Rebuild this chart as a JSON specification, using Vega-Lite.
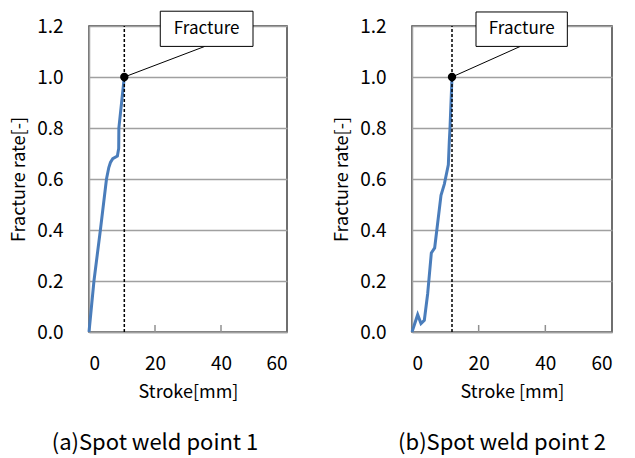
{
  "$schema": "https://vega.github.io/schema/vega-lite/v6.json",
  "padding": {"left": 9, "top": 9, "right": 5, "bottom": 0},
  "spacing": 44,
  "background": "white",
  "config": {
    "font": "Noto Sans CJK JP",
    "view": {"stroke": "#404040", "strokeWidth": 1.5},
    "axis": {
      "labelFont": "Noto Sans CJK JP",
      "titleFont": "Noto Sans CJK JP",
      "labelFontSize": 19,
      "titleFontSize": 18,
      "titleFontWeight": "normal",
      "labelColor": "#000000",
      "titleColor": "#000000",
      "domainColor": "#a0a0a0",
      "domainWidth": 1.5,
      "gridColor": "#a0a0a0",
      "gridWidth": 1.5,
      "ticks": false
    },
    "title": {"font": "Noto Sans CJK JP", "fontSize": 22, "fontWeight": "normal", "color": "#000000"}
  },
  "datasets": {
    "p1": [
      {"stroke": 0, "rate": 0},
      {"stroke": 1.5, "rate": 0.2},
      {"stroke": 3.45, "rate": 0.4},
      {"stroke": 5.3, "rate": 0.6},
      {"stroke": 6.0, "rate": 0.645},
      {"stroke": 6.5, "rate": 0.665},
      {"stroke": 7.2, "rate": 0.68},
      {"stroke": 8.6, "rate": 0.69},
      {"stroke": 9.0, "rate": 0.72},
      {"stroke": 9.05, "rate": 0.8},
      {"stroke": 10.7, "rate": 1.0}
    ],
    "p2": [
      {"stroke": 0, "rate": 0},
      {"stroke": 1.7, "rate": 0.068},
      {"stroke": 2.7, "rate": 0.033},
      {"stroke": 3.7, "rate": 0.046},
      {"stroke": 4.7, "rate": 0.15},
      {"stroke": 5.8, "rate": 0.31},
      {"stroke": 6.8, "rate": 0.33},
      {"stroke": 8.7, "rate": 0.536},
      {"stroke": 9.7, "rate": 0.58},
      {"stroke": 10.9, "rate": 0.656},
      {"stroke": 11.2, "rate": 0.75},
      {"stroke": 11.4, "rate": 0.8},
      {"stroke": 12.0, "rate": 1.0}
    ],
    "ticks": [{"t": 20, "y0": 0, "y1": 0.0275}, {"t": 40, "y0": 0, "y1": 0.0275}],
    "f1": [{"x": 10.7, "y": 1.0, "bx1": 21.6, "bx2": 49.7, "by1": 1.12, "by2": 1.258, "cx": 35.1, "cy": 1.12, "tx": 35.65, "ty": 1.189, "label": "Fracture"}],
    "f2": [{"x": 12.0, "y": 1.0, "bx1": 19.2, "bx2": 46.6, "by1": 1.12, "by2": 1.255, "cx": 32.5, "cy": 1.12, "tx": 32.9, "ty": 1.187, "label": "Fracture"}]
  },
  "hconcat": [
    {
      "width": 198,
      "height": 306,
      "title": {"text": "(a)Spot weld point 1", "orient": "bottom", "anchor": "middle", "offset": 32, "dx": -33},
      "layer": [
        {
          "data": {"name": "p1"},
          "mark": {"type": "line", "color": "#4a7dbb", "strokeWidth": 3},
          "encoding": {
            "x": {"field": "stroke", "type": "quantitative", "scale": {"domain": [0, 60]},
              "axis": {"title": "Stroke[mm]", "values": [0, 20, 40, 60], "grid": false, "labelPadding": 22, "titlePadding": 10}},
            "y": {"field": "rate", "type": "quantitative", "scale": {"domain": [0, 1.2]},
              "axis": {"title": "Fracture rate[-]", "values": [0, 0.2, 0.4, 0.6, 0.8, 1.0, 1.2], "format": ".1f", "labelPadding": 26, "titlePadding": 8}}
          }
        },
        {
          "data": {"name": "ticks"},
          "mark": {"type": "rule", "color": "#909090", "strokeWidth": 1.5},
          "encoding": {"x": {"field": "t", "type": "quantitative"}, "y": {"field": "y0", "type": "quantitative"}, "y2": {"field": "y1"}}
        },
        {
          "data": {"name": "f1"},
          "mark": {"type": "rule", "color": "#000000", "strokeWidth": 1.5, "strokeDash": [3, 2]},
          "encoding": {"x": {"field": "x", "type": "quantitative"}, "y": {"datum": 0}, "y2": {"datum": 1.2}}
        },
        {
          "data": {"name": "f1"},
          "mark": {"type": "rule", "color": "#000000", "strokeWidth": 1},
          "encoding": {"x": {"field": "x", "type": "quantitative"}, "y": {"field": "y", "type": "quantitative"}, "x2": {"field": "cx"}, "y2": {"field": "cy"}}
        },
        {
          "data": {"name": "f1"},
          "mark": {"type": "point", "filled": true, "color": "#000000", "size": 70, "opacity": 1},
          "encoding": {"x": {"field": "x", "type": "quantitative"}, "y": {"field": "y", "type": "quantitative"}}
        },
        {
          "data": {"name": "f1"},
          "mark": {"type": "rect", "fill": "white", "stroke": "#000000", "strokeWidth": 1},
          "encoding": {"x": {"field": "bx1", "type": "quantitative"}, "x2": {"field": "bx2"}, "y": {"field": "by1", "type": "quantitative"}, "y2": {"field": "by2"}}
        },
        {
          "data": {"name": "f1"},
          "mark": {"type": "text", "fontSize": 17, "color": "#000000", "align": "center", "baseline": "middle"},
          "encoding": {"x": {"field": "tx", "type": "quantitative"}, "y": {"field": "ty", "type": "quantitative"}, "text": {"field": "label"}}
        }
      ]
    },
    {
      "width": 200,
      "height": 306,
      "title": {"text": "(b)Spot weld point 2", "orient": "bottom", "anchor": "middle", "offset": 32, "dx": -10},
      "layer": [
        {
          "data": {"name": "p2"},
          "mark": {"type": "line", "color": "#4a7dbb", "strokeWidth": 3},
          "encoding": {
            "x": {"field": "stroke", "type": "quantitative", "scale": {"domain": [0, 60]},
              "axis": {"title": "Stroke [mm]", "values": [0, 20, 40, 60], "grid": false, "labelPadding": 22, "titlePadding": 10}},
            "y": {"field": "rate", "type": "quantitative", "scale": {"domain": [0, 1.2]},
              "axis": {"title": "Fracture rate[-]", "values": [0, 0.2, 0.4, 0.6, 0.8, 1.0, 1.2], "format": ".1f", "labelPadding": 26, "titlePadding": 8}}
          }
        },
        {
          "data": {"name": "ticks"},
          "mark": {"type": "rule", "color": "#909090", "strokeWidth": 1.5},
          "encoding": {"x": {"field": "t", "type": "quantitative"}, "y": {"field": "y0", "type": "quantitative"}, "y2": {"field": "y1"}}
        },
        {
          "data": {"name": "f2"},
          "mark": {"type": "rule", "color": "#000000", "strokeWidth": 1.5, "strokeDash": [3, 2]},
          "encoding": {"x": {"field": "x", "type": "quantitative"}, "y": {"datum": 0}, "y2": {"datum": 1.2}}
        },
        {
          "data": {"name": "f2"},
          "mark": {"type": "rule", "color": "#000000", "strokeWidth": 1},
          "encoding": {"x": {"field": "x", "type": "quantitative"}, "y": {"field": "y", "type": "quantitative"}, "x2": {"field": "cx"}, "y2": {"field": "cy"}}
        },
        {
          "data": {"name": "f2"},
          "mark": {"type": "point", "filled": true, "color": "#000000", "size": 70, "opacity": 1},
          "encoding": {"x": {"field": "x", "type": "quantitative"}, "y": {"field": "y", "type": "quantitative"}}
        },
        {
          "data": {"name": "f2"},
          "mark": {"type": "rect", "fill": "white", "stroke": "#000000", "strokeWidth": 1},
          "encoding": {"x": {"field": "bx1", "type": "quantitative"}, "x2": {"field": "bx2"}, "y": {"field": "by1", "type": "quantitative"}, "y2": {"field": "by2"}}
        },
        {
          "data": {"name": "f2"},
          "mark": {"type": "text", "fontSize": 17, "color": "#000000", "align": "center", "baseline": "middle"},
          "encoding": {"x": {"field": "tx", "type": "quantitative"}, "y": {"field": "ty", "type": "quantitative"}, "text": {"field": "label"}}
        }
      ]
    }
  ]
}
